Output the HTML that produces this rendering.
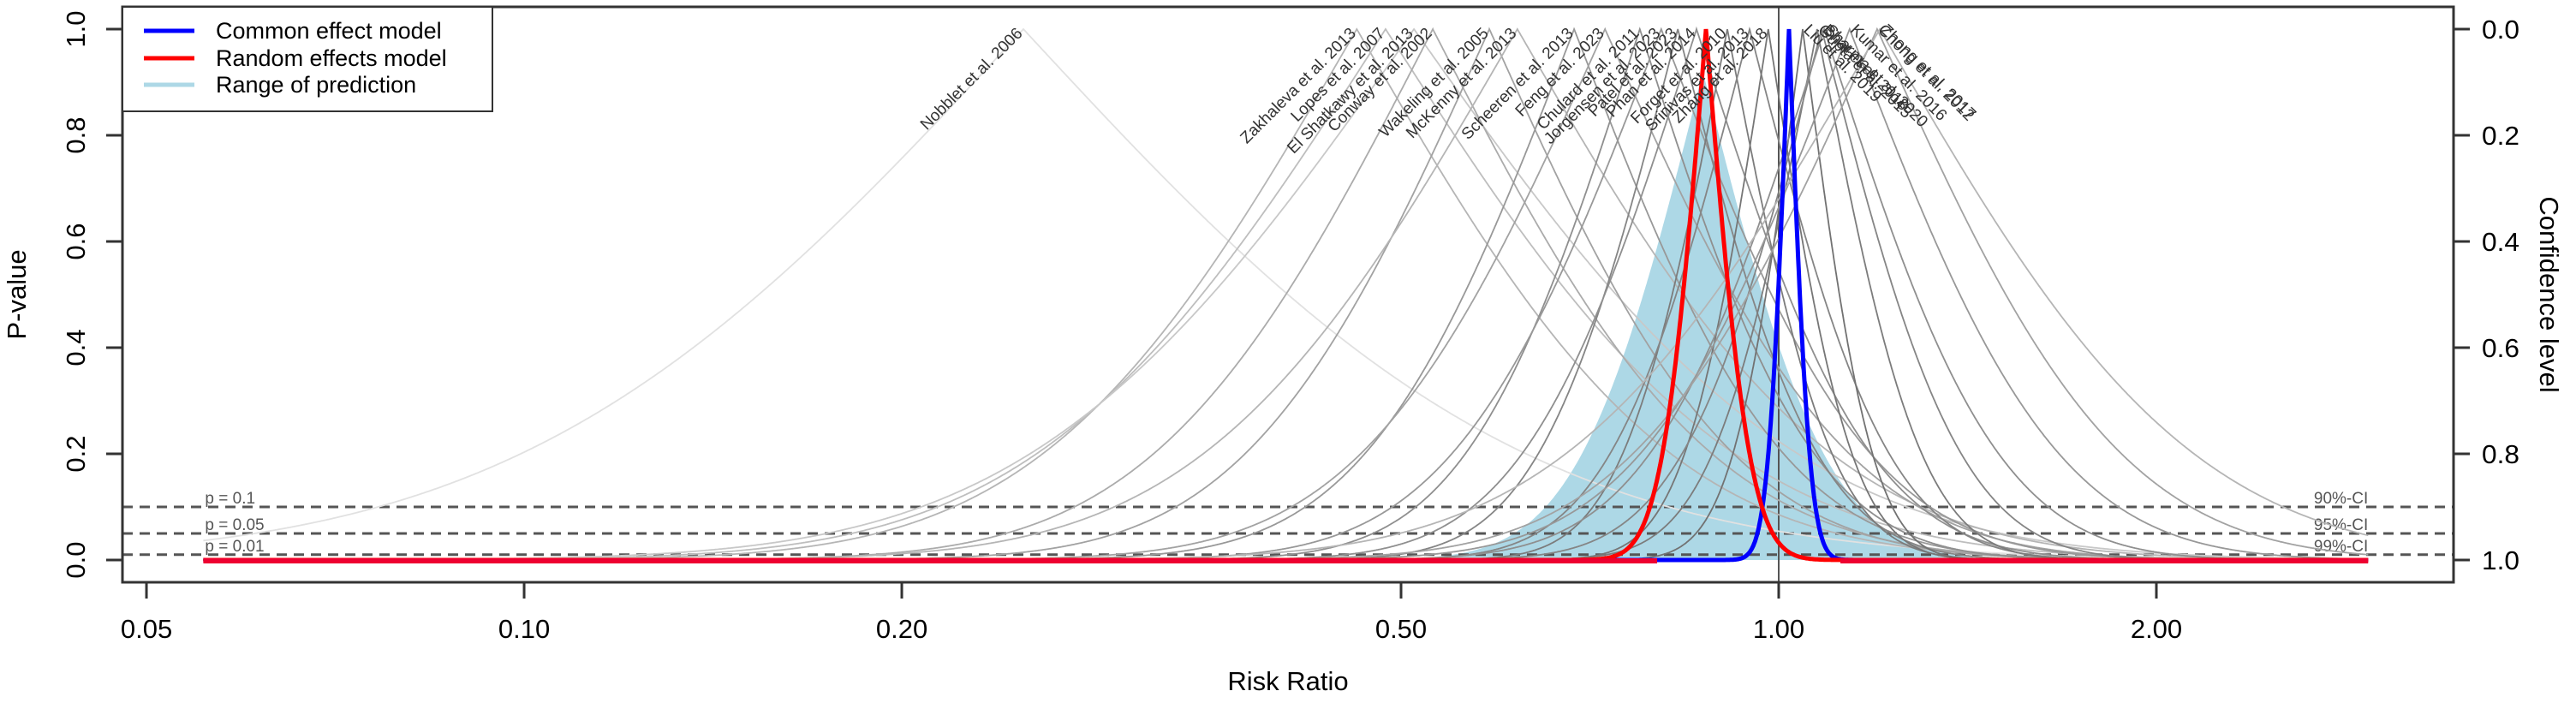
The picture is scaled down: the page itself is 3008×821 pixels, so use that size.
<!DOCTYPE html>
<html><head><meta charset="utf-8"><style>
html,body{margin:0;padding:0;background:#fff;width:3008px;height:821px;overflow:hidden}
svg text{font-family:"Liberation Sans",sans-serif}
</style></head><body>
<svg id="chart" width="3008" height="821" viewBox="0 0 3008 821" xmlns="http://www.w3.org/2000/svg">
<g id="fillLayer"></g><g id="gridLayer"></g><g id="curveLayer"></g><g id="poolLayer"></g><g id="labelLayer"></g><g id="axisLayer"></g>
</svg>
<script>
const studyNames=["Nobblet et al. 2006","Zakhaleva et al. 2013","Lopes et al. 2007","El Shatkawy et al. 2013","Conway et al. 2002","Wakeling et al. 2005","McKenny et al. 2013","Scheeren et al. 2013","Feng et al. 2023","Chulard et al. 2011","Jorgensen et al. 2023","Patel et al. 2023","Phan et al. 2014","Forget et al. 2010","Srinivas et al. 2013","Zhang et al. 2018","Liu et al. 2019","Gupta et al. 2015","Bhat et al. 2018","Sharma et al. 2020","Kumar et al. 2016","Chong et al. 2012","Zhong et al. 2017"];
const studyRR=[0.25,0.461,0.486,0.512,0.53,0.588,0.619,0.687,0.727,0.775,0.806,0.831,0.86,0.91,0.948,0.981,1.045,1.073,1.082,1.087,1.139,1.198,1.204];
const studySE=[0.72,0.45,0.5,0.55,0.4,0.35,0.45,0.3,0.35,0.25,0.3,0.2,0.25,0.15,0.2,0.12,0.1,0.15,0.2,0.25,0.3,0.35,0.45];
const commonRR=1.019, commonSE=0.0296;
const randomRR=0.875, randomSE=0.0625;
const predRR=0.87, predSE=0.18, predTop=0.92;
const xTicks=[0.05,0.10,0.20,0.50,1.00,2.00];
const xTickLabels=["0.05","0.10","0.20","0.50","1.00","2.00"];
const pTicks=[0,0.2,0.4,0.6,0.8,1.0];
const pTickLabels=["0.0","0.2","0.4","0.6","0.8","1.0"];
const confTickLabels=["1.0","0.8","0.6","0.4","0.2","0.0"];
const refP=[0.1,0.05,0.01];
const refPLabels=["p = 0.1","p = 0.05","p = 0.01"];
const refCILabels=["90%-CI","95%-CI","99%-CI"];
const xMin=0.0555, xMax=2.95;

const NS="http://www.w3.org/2000/svg";
const L=143,R=2865,T=8,B=680;
function X(rr){return 2077+441*Math.log2(rr);}
function Y(p){return 654-620*p;}
function erf(x){const s=x<0?-1:1;x=Math.abs(x);const t=1/(1+0.3275911*x);
 const y=1-(((((1.061405429*t-1.453152027)*t)+1.421413741)*t-0.284496736)*t+0.254829592)*t*Math.exp(-x*x);return s*y;}
function pval(rr,c,se){const z=Math.abs(Math.log(rr)-Math.log(c))/se;return 1-erf(z/Math.SQRT2);}
function el(tag,attrs,parent){const e=document.createElementNS(NS,tag);for(const k in attrs)e.setAttribute(k,attrs[k]);parent.appendChild(e);return e;}
function curvePts(c,se,scale){const lrs=[];const N=3000;for(let i=0;i<=N;i++){lrs.push(Math.log(xMin)+(Math.log(xMax)-Math.log(xMin))*i/N);}
 lrs.push(Math.log(c));lrs.sort((a,b)=>a-b);
 return lrs.map(lr=>{const rr=Math.exp(lr);return X(rr).toFixed(1)+","+Y(scale*pval(rr,c,se)).toFixed(1);});}

const fillL=document.getElementById('fillLayer'),gridL=document.getElementById('gridLayer'),curveL=document.getElementById('curveLayer'),poolL=document.getElementById('poolLayer'),labL=document.getElementById('labelLayer'),axL=document.getElementById('axisLayer');

const pp=curvePts(predRR,predSE,predTop);
const pf=el('polygon',{points:X(xMin)+","+Y(0)+" "+pp.join(" ")+" "+X(xMax)+","+Y(0),fill:"#add8e6",stroke:"none"},fillL);



refP.forEach((p,i)=>{
 const ln=el('line',{x1:L,x2:R,y1:Y(p),y2:Y(p),stroke:"#555","stroke-width":3,"stroke-dasharray":"12,8"},gridL);
 
 
 const t=el('text',{x:X(xMin)+2,y:Y(p)-4,"font-size":19,fill:"#555"},gridL);t.textContent=refPLabels[i];
 
 
 const t2=el('text',{x:X(xMax),y:Y(p)-4,"font-size":19,fill:"#555","text-anchor":"end"},gridL);t2.textContent=refCILabels[i];
 
 
});
const vl=el('line',{x1:X(1),x2:X(1),y1:T,y2:B,stroke:"#555","stroke-width":2},gridL);



studyRR.forEach((rr,i)=>{
 const se=studySE[i];
 const g=Math.round(Math.min(225,Math.max(100,95+se*190)));
 const col="rgb("+g+","+g+","+g+")";
 const pl=el('polyline',{points:curvePts(rr,se,1).join(" "),fill:"none",stroke:col,"stroke-width":1.8},curveL);
 
 
 const x=X(rr);
 let t;
 if(rr<1){t=el('text',{x:x,y:40,"font-size":19,fill:"#333","text-anchor":"end",transform:"rotate(-45 "+x+" 40)"},labL);}
 else{t=el('text',{x:x,y:36,"font-size":19,fill:"#333","text-anchor":"start",transform:"rotate(45 "+x+" 36)"},labL);}
 t.textContent=studyNames[i];
 
 
});

const bc=el('polyline',{points:curvePts(commonRR,commonSE,1).join(" "),fill:"none",stroke:"#0000ff","stroke-width":5},poolL);


const rc=el('polyline',{points:curvePts(randomRR,randomSE,1).join(" "),fill:"none",stroke:"#ff0000","stroke-width":5},poolL);


const rb1=el('line',{x1:X(xMin),x2:X(0.8),y1:Y(0)+1,y2:Y(0)+1,stroke:"#ee0030","stroke-width":6},poolL);


const rb=el('line',{x1:X(1.12),x2:X(xMax),y1:Y(0)+1,y2:Y(0)+1,stroke:"#ee0030","stroke-width":6},poolL);



const box=el('rect',{x:L,y:T,width:R-L,height:B-T,fill:"none",stroke:"#333","stroke-width":3},axL);


xTicks.forEach((v,i)=>{
 const x=X(v);
 const tk=el('line',{x1:x,x2:x,y1:B,y2:B+19,stroke:"#333","stroke-width":3},axL);
 
 
 const t=el('text',{x:x,y:745,"font-size":31,"text-anchor":"middle",fill:"#000"},axL);t.textContent=xTickLabels[i];
 
 
});
pTicks.forEach((v,i)=>{
 const y=Y(v);
 const tk=el('line',{x1:L,x2:L-19,y1:y,y2:y,stroke:"#333","stroke-width":3},axL);
 
 
 const t=el('text',{x:99,y:y,"font-size":31,"text-anchor":"middle",fill:"#000",transform:"rotate(-90 99 "+y+")"},axL);t.textContent=pTickLabels[i];
 
 
 const tk2=el('line',{x1:R,x2:R+19,y1:y,y2:y,stroke:"#333","stroke-width":3},axL);
 
 
 const t2=el('text',{x:2898,y:y+11,"font-size":31,fill:"#000",textLength:44,lengthAdjust:"spacingAndGlyphs"},axL);t2.textContent=confTickLabels[i];
 
 
});
</script>
<svg style="position:absolute;left:0;top:0" width="3008" height="821">
<text x="30" y="344" font-size="31" text-anchor="middle" transform="rotate(-90 30 344)" style="font-family:'Liberation Sans',sans-serif">P-value</text>
<text x="2966" y="344" font-size="31" text-anchor="middle" transform="rotate(90 2966 344)" style="font-family:'Liberation Sans',sans-serif">Confidence level</text>
<text x="1504" y="806" font-size="31" text-anchor="middle" style="font-family:'Liberation Sans',sans-serif">Risk Ratio</text>
<g>
<rect x="143" y="8" width="432" height="122" fill="#fff" stroke="#333" stroke-width="2"/>
<line x1="168" x2="227" y1="36" y2="36" stroke="#0000ff" stroke-width="5"/>
<text x="252" y="45" font-size="27" style="font-family:'Liberation Sans',sans-serif">Common effect model</text>
<line x1="168" x2="227" y1="68" y2="68" stroke="#ff0000" stroke-width="5"/>
<text x="252" y="77" font-size="27" style="font-family:'Liberation Sans',sans-serif">Random effects model</text>
<line x1="168" x2="227" y1="99" y2="99" stroke="#add8e6" stroke-width="5"/>
<text x="252" y="108" font-size="27" style="font-family:'Liberation Sans',sans-serif">Range of prediction</text>
</g>
</svg>
</body></html>
